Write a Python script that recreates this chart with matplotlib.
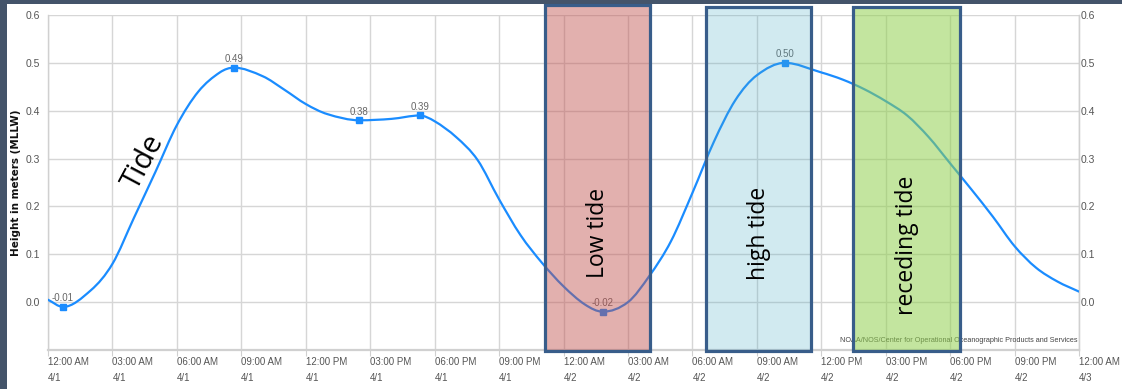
import matplotlib
matplotlib.use("Agg")
import matplotlib.pyplot as plt
from matplotlib.patches import Rectangle, PathPatch
from matplotlib.path import Path

# ---- data (hours since 12:00 AM 4/1, height in m MLLW) ----
hours = [0, 0.7, 2, 3, 4, 5, 6, 7, 8, 8.66, 10, 11, 12, 13, 14.5, 16,
         17.3, 18, 19, 20, 21, 22, 23, 24, 25, 25.83, 27, 28, 29, 30, 31, 32, 33,
         34.3, 36, 37, 38, 39, 40, 41, 42, 43, 44, 45, 46, 47, 48]
heights = [0.005, -0.01, 0.025, 0.08, 0.176, 0.272, 0.37, 0.44, 0.48, 0.49,
           0.472, 0.444, 0.414, 0.393, 0.38, 0.383, 0.39, 0.378, 0.345,
           0.297, 0.215, 0.14, 0.082, 0.033, -0.005, -0.02, 0.0, 0.055, 0.127, 0.228,
           0.335, 0.422, 0.474, 0.50, 0.48, 0.465, 0.445, 0.42, 0.39, 0.345,
           0.29, 0.235, 0.178, 0.117, 0.072, 0.043, 0.022]

peak_hours = [0.7, 8.66, 14.5, 17.3, 25.83, 34.3]
peak_values = [-0.01, 0.49, 0.38, 0.39, -0.02, 0.50]
peak_labels = ["-0.01", "0.49", "0.38", "0.39", "-0.02", "0.50"]

tick_hours = list(range(0, 49, 3))
tick_labels = ["12:00 AM\n4/1", "03:00 AM\n4/1", "06:00 AM\n4/1", "09:00 AM\n4/1",
               "12:00 PM\n4/1", "03:00 PM\n4/1", "06:00 PM\n4/1", "09:00 PM\n4/1",
               "12:00 AM\n4/2", "03:00 AM\n4/2", "06:00 AM\n4/2", "09:00 AM\n4/2",
               "12:00 PM\n4/2", "03:00 PM\n4/2", "06:00 PM\n4/2", "09:00 PM\n4/2",
               "12:00 AM\n4/3"]
y_ticks = [0.0, 0.1, 0.2, 0.3, 0.4, 0.5, 0.6]
y_labels = ["0.0", "0.1", "0.2", "0.3", "0.4", "0.5", "0.6"]

box_names = ["Low tide", "high tide", "receding tide"]
box_start = [23.15, 30.65, 37.49]
box_end = [28.04, 35.54, 42.48]

# ---- figure ----
W, H = 1122, 389
fig = plt.figure(figsize=(W / 100, H / 100), dpi=100)
fig.patch.set_facecolor("#44546A")
fig.add_artist(Rectangle((7 / W, 0), 1 - 7 / W, 1 - 4 / H, transform=fig.transFigure,
                         facecolor="white", edgecolor="none", zorder=0))

ax = fig.add_axes([48 / W, 1 - 350 / H, (1079 - 48) / W, (350 - 15) / H])
ax.set_facecolor("white")
ax.set_xlim(0, 48)
ax.set_ylim(-0.1, 0.6)

grid_c = "#D6D6D6"
ax.set_xticks(tick_hours)
ax.set_yticks(y_ticks)
ax.grid(True, color=grid_c, lw=1.0, zorder=0)
ax.spines["top"].set_visible(False)
for s in ["left", "right", "bottom"]:
    ax.spines[s].set_color("#D0D0D0")
    ax.spines[s].set_linewidth(1.0)
ax.spines["bottom"].set_linewidth(1.6)

tick_font = dict(family=["Liberation Sans", "DejaVu Sans"])
ax.set_xticklabels(tick_labels, fontsize=7, color="#555555", ha="left",
                   linespacing=1.75, **tick_font)
ax.tick_params(axis="x", length=4, color="#D0D0D0", pad=1)
ax.set_yticklabels(y_labels, fontsize=7.5, color="#555555", **tick_font)
ax.tick_params(axis="y", length=0, pad=6)

ax2 = ax.twinx()
ax2.set_ylim(-0.1, 0.6)
ax2.set_yticks(y_ticks)
ax2.set_yticklabels(y_labels, fontsize=7.5, color="#555555", **tick_font)
ax2.tick_params(axis="y", length=0, pad=1)
for s in ["top", "left", "bottom"]:
    ax2.spines[s].set_visible(False)
ax2.spines["right"].set_color("#D0D0D0")

# tide line drawn as a smooth spline through the readings
line_c = "#1A8CFF"
n = len(hours)
slopes = []
for i in range(n):
    if i == 0:
        m = (heights[1] - heights[0]) / (hours[1] - hours[0])
    elif i == n - 1:
        m = (heights[-1] - heights[-2]) / (hours[-1] - hours[-2])
    elif hours[i] in peak_hours:
        m = 0.0
    else:
        m = (heights[i + 1] - heights[i - 1]) / (hours[i + 1] - hours[i - 1])
    slopes.append(m)
verts = [(hours[0], heights[0])]
codes = [Path.MOVETO]
for i in range(n - 1):
    dx = (hours[i + 1] - hours[i]) / 3.0
    verts += [(hours[i] + dx, heights[i] + slopes[i] * dx),
              (hours[i + 1] - dx, heights[i + 1] - slopes[i + 1] * dx),
              (hours[i + 1], heights[i + 1])]
    codes += [Path.CURVE4] * 3
ax.add_patch(PathPatch(Path(verts, codes), facecolor="none", edgecolor=line_c,
                       lw=1.6, zorder=3, capstyle="round"))

ax.plot(peak_hours, peak_values, ls="none", marker="s", ms=4, color=line_c, zorder=4)
for h, v, lab in zip(peak_hours, peak_values, peak_labels):
    ax.annotate(lab, (h, v), xytext=(0, 2.5), textcoords="offset points",
                ha="center", va="bottom", fontsize=7, color="#666666", zorder=4,
                **tick_font)

fig.text(16 / W, 1 - 183 / H, "Height in meters (MLLW)", rotation=90, ha="center",
         va="center", fontsize=7.5, fontweight="bold", color="#111111")

ax.text(47.95, -0.081, "NOAA/NOS/Center for Operational Oceanographic Products and Services",
        ha="right", va="center", fontsize=5.2, color="#444444", zorder=2, **tick_font)

# annotation boxes
fills = [("#C0504D", 0.45), ("#4BACC6", 0.25), ("#92D050", 0.55)]
tops = [0.620, 0.617, 0.616]
for (fc, a), x0, x1, top in zip(fills, box_start, box_end, tops):
    ax.add_patch(Rectangle((x0, -0.102), x1 - x0, top + 0.102, facecolor=fc, alpha=a,
                           edgecolor="none", zorder=5, clip_on=False))
    ax.add_patch(Rectangle((x0, -0.102), x1 - x0, top + 0.102, facecolor="none",
                           edgecolor="#385D8A", lw=2.3, zorder=6, clip_on=False))

txt_font = ["Open Sans", "DejaVu Sans"]
text_y = [0.144, 0.144, 0.118]
for name, x0, x1, ty in zip(box_names, box_start, box_end, text_y):
    ax.text((x0 + x1) / 2, ty, name, rotation=90, ha="center", va="center",
            fontsize=16.5, color="black", family=txt_font, zorder=7)

ax.text(4.45, 0.293, "Tide", rotation=62, ha="center", va="center", fontsize=21,
        color="black", family=txt_font, zorder=7)

fig.savefig("out.png", dpi=100, facecolor=fig.get_facecolor())
